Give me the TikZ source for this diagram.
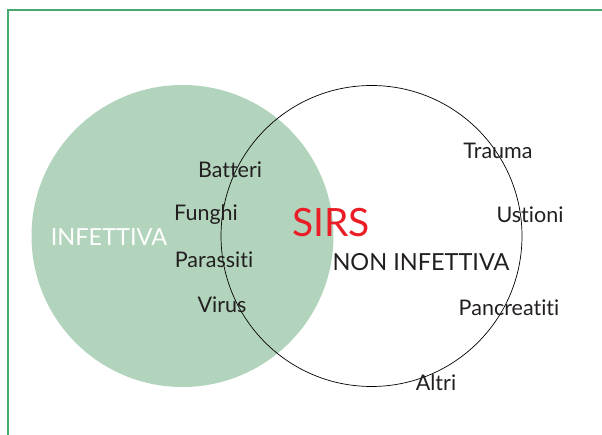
\documentclass[tikz,border=0pt]{standalone}
\usepackage{fontspec}
\setmainfont{Lato}[Ligatures={NoCommon}]
\definecolor{sage}{RGB}{178,212,188}
\definecolor{frame}{RGB}{70,170,110}
\definecolor{sirsred}{RGB}{235,30,40}
\definecolor{ink}{RGB}{35,31,32}
\begin{document}
\begin{tikzpicture}[x=1pt,y=-1pt,
  lbl/.style={font=\fontsize{21.5}{24}\selectfont, text=ink, inner sep=0pt},
  caplbl/.style={lbl, font=\fontsize{23.5}{26}\selectfont},
  wlbl/.style={caplbl, text=white},
  bigred/.style={font=\fontsize{39}{44}\selectfont, text=sirsred, inner sep=0pt}]
\useasboundingbox (0,0) rectangle (602,435);
\fill[white] (0,0) rectangle (602,435);
\draw[frame, line width=1.4pt] (8,435) coordinate (fb) -- (8,10) coordinate (fc) -- (602,10) coordinate (fr);
\node[circle, fill=sage, minimum size=302pt, inner sep=0pt] (inf) at (182.5,236) {};
\node[circle, draw=black, line width=0.7pt, minimum size=301pt, inner sep=0pt] (ninf) at (371.5,236) {};
\node[wlbl] (tinf) at (109,237) {INFETTIVA};
\node[lbl] (batt) at (230,170) {Batteri};
\node[lbl] (fung) at (206,215) {Funghi};
\node[lbl] (para) at (214,260) {Parassiti};
\node[lbl] (viru) at (222,305) {Virus};
\node[bigred] (sirs) at (331,223) {SIRS};
\node[caplbl] (tnon) at (421,262) {NON INFETTIVA};
\node[lbl] (trau) at (498,151) {Trauma};
\node[lbl] (usti) at (530,215) {Ustioni};
\node[lbl] (panc) at (509,308) {Pancreatiti};
\node[lbl] (altr) at (436,383) {Altri};
\end{tikzpicture}
\end{document}
